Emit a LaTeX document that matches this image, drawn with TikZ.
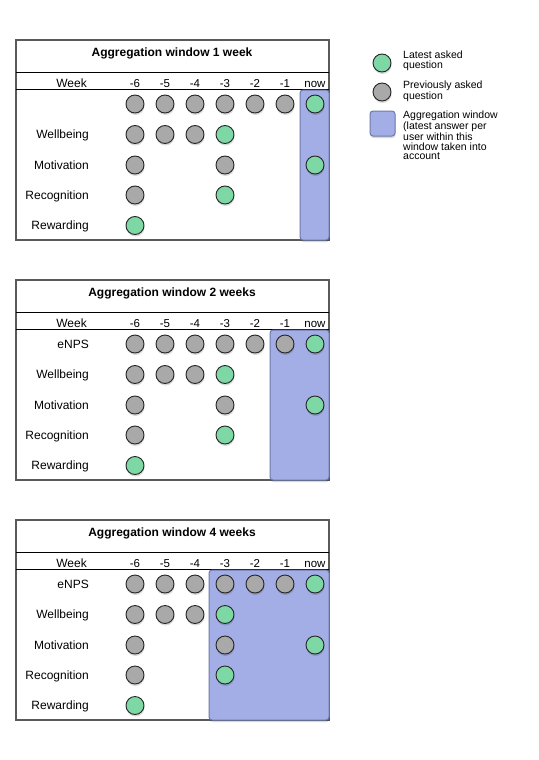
\documentclass[tikz,border=0pt]{standalone}
\usepackage{fontspec}
\setmainfont{Liberation Sans}
\usetikzlibrary{shadows}
\definecolor{dotgreen}{HTML}{7DD8A6}
\definecolor{dotgray}{HTML}{A9A9A9}
\definecolor{winblue}{HTML}{A4AEE6}
\definecolor{winedge}{HTML}{6E7BA8}
\definecolor{framegray}{HTML}{5A5A5A}
\tikzset{
  dot/.style={circle, draw=black!85, line width=0.9pt, minimum size=18pt, inner sep=0pt,
    drop shadow={shadow xshift=0.5pt, shadow yshift=-2pt, opacity=0.15, fill=black}},
  latest/.style={dot, fill=dotgreen},
  prev/.style={dot, fill=dotgray},
  window/.style={fill=winblue, draw=winedge, line width=1pt, rounded corners=3pt,
    drop shadow={shadow xshift=0.5pt, shadow yshift=-2pt, opacity=0.15, fill=black}},
  frame/.style={draw=framegray, line width=1.1pt},
  rule/.style={draw=black, line width=0.8pt},
  rowlabel/.style={anchor=base east, font=\fontsize{12}{14}\selectfont, inner sep=0pt},
  collabel/.style={anchor=base, font=\fontsize{11.5}{14}\selectfont, inner sep=0pt},
  paneltitle/.style={font=\bfseries\fontsize{12}{14}\selectfont, inner sep=0pt},
  legendtext/.style={anchor=north west, align=left, font=\fontsize{10.5}{9.7}\selectfont, inner sep=0pt}
}
\newcommand\drawpanel[5]{%
  \begin{scope}[shift={(0,#2)}]
    \draw[frame] (16,40) rectangle (329,240);
    \draw[rule] (16,72) -- (329,72);
    \draw[rule] (16,89) -- (329,89);
    \draw[window] (#4,90) rectangle (329,240);
    \node[paneltitle] (t#1) at (172,53) {#3};
    \node[rowlabel] (wk#1) at (87,87) {Week};
    \foreach \x/\t [count=\i] in {135/-6,165/-5,195/-4,225/-3,255/-2,285/-1,315/now}
      \node[collabel] (h#1-\i) at (\x,87) {\t};
    \node[rowlabel] (ra#1) at (89,108.3) {#5};
    \node[rowlabel] (rb#1) at (89,138.8) {Wellbeing};
    \node[rowlabel] (rc#1) at (89,169.3) {Motivation};
    \node[rowlabel] (rd#1) at (89,199.3) {Recognition};
    \node[rowlabel] (re#1) at (89,229.8) {Rewarding};
    \foreach \c/\y/\s in {1/104/prev,2/104/prev,3/104/prev,4/104/prev,5/104/prev,6/104/prev,7/104/latest,
        1/134.5/prev,2/134.5/prev,3/134.5/prev,4/134.5/latest,
        1/165/prev,4/165/prev,7/165/latest,
        1/195/prev,4/195/latest,
        1/225.5/latest}
      \node[\s] (d#1-\c-\y) at ({105+30*\c},\y) {};
  \end{scope}}
\begin{document}
\begin{tikzpicture}[x=1pt,y=-1pt]
  \useasboundingbox[fill=white] (0,0) rectangle (538,760);
  \drawpanel{a}{0}{Aggregation window 1 week}{300}{}
  \drawpanel{b}{240}{Aggregation window 2 weeks}{270}{eNPS}
  \drawpanel{c}{480}{Aggregation window 4 weeks}{209}{eNPS}
  % legend
  \node[latest] (lg1) at (382,63) {};
  \node[prev] (lg2) at (382,92) {};
  \draw[window] (370,111) rectangle (395,136);
  \node[legendtext] (lt1) at (403,50.5) {Latest asked\\question};
  \node[legendtext] (lt2) at (403,81) {Previously asked\\question};
  \node[legendtext] (lt3) at (403,111) {Aggregation window\\(latest answer per\\user within this\\window taken into\\account};
\end{tikzpicture}
\end{document}
